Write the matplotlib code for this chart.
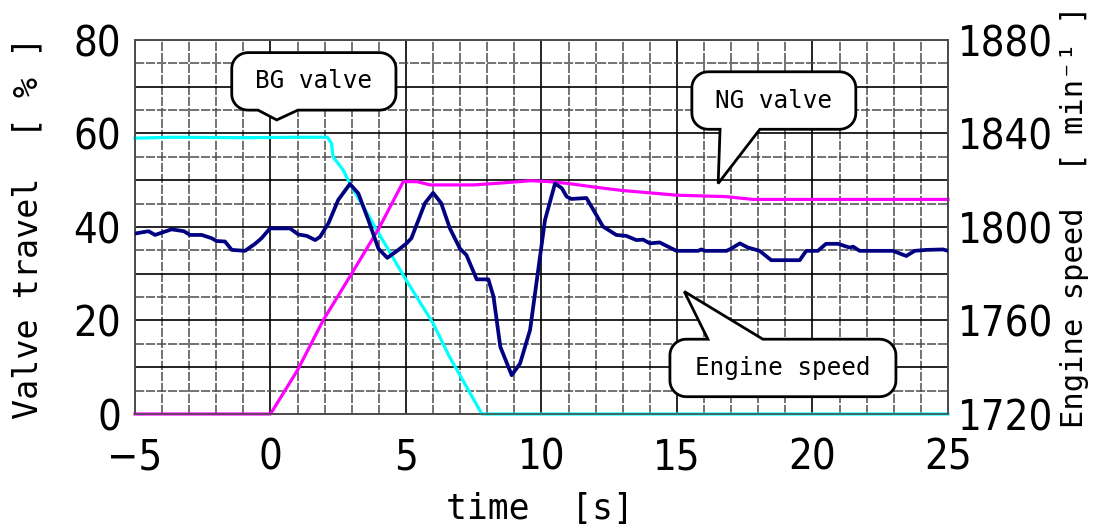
import numpy as np
import matplotlib
matplotlib.use("Agg")
import matplotlib.pyplot as plt
from matplotlib.path import Path
from matplotlib.patches import PathPatch
from matplotlib import font_manager as fm

# ---------------- data ----------------
bg_t = [-5, -3.6, -1, 1, 2.1, 2.25, 2.31, 2.68, 2.93, 3.85, 4.0, 5.0, 6.0, 6.6, 7.8, 25]
bg_v = [59.0, 59.2, 59.1, 59.2, 59.2, 57.9, 55.0, 52.2, 49.3, 40.1, 38.6, 28.7, 19.4, 12.3, 0, 0]

ng_t = [-5, 0, 1.0, 1.95, 2.93, 4.0, 4.9, 5.4, 5.9, 7.5, 8.5, 9.6, 10.3, 11, 12, 13, 14, 15, 16.8, 17.8, 25]
ng_v = [0, 0, 9.4, 20.1, 29.4, 39.7, 49.7, 49.7, 49.0, 49.0, 49.4, 49.9, 49.7, 49.3, 48.5, 47.8, 47.3, 46.8, 46.5, 45.9, 45.9]

es_t = [-5, -4.5, -4.26, -3.65, -3.2, -2.97, -2.54, -2.17, -1.99, -1.68, -1.43, -0.94, -0.57, -0.33,
        -0.02, 0.72, 1.03, 1.34, 1.65, 1.83, 2.14, 2.5, 2.93, 3.24, 3.61, 3.98, 4.31, 4.72, 5.02, 5.2,
        5.7, 6.0, 6.3, 6.62, 6.99, 7.23, 7.61, 8.04, 8.23, 8.48, 8.9, 9.21, 9.58, 9.83, 10.13, 10.5,
        10.75, 10.93, 11.1, 11.66, 12.27, 12.76, 13.13, 13.5, 13.75, 14.0, 14.36, 14.98, 15.78, 15.9,
        16.03, 16.83, 17.01, 17.32, 17.62, 18.05, 18.48, 19.53, 19.77, 20.2, 20.5, 20.94, 21.37, 21.5,
        21.74, 22.97, 23.46, 23.77, 24.2, 24.82, 25.0]
es_rpm = [1797.2, 1798.2, 1796.6, 1799.0, 1798.2, 1796.6, 1796.6, 1795.2, 1794.0, 1793.8, 1790.2, 1789.8,
          1792.8, 1795.2, 1799.4, 1799.4, 1796.8, 1796.2, 1794.4, 1795.8, 1801.6, 1811.6, 1818.4, 1814.4,
          1803.0, 1790.8, 1786.8, 1790.2, 1793.0, 1795.2, 1810.2, 1814.6, 1810.2, 1799.4, 1790.8, 1788.0,
          1777.6, 1777.6, 1770.2, 1748.8, 1736.6, 1741.6, 1756.0, 1777.4, 1803.0, 1818.6, 1816.6, 1813.0,
          1812.0, 1812.4, 1800.2, 1796.6, 1796.2, 1794.4, 1794.6, 1793.0, 1793.4, 1789.8, 1789.8, 1790.4,
          1789.8, 1789.8, 1790.8, 1793.0, 1791.2, 1789.8, 1785.8, 1785.8, 1789.8, 1789.8, 1792.8, 1792.8,
          1791.2, 1791.6, 1789.8, 1789.8, 1787.6, 1789.8, 1790.2, 1790.4, 1789.8]

x_ticks = [-5, 0, 5, 10, 15, 20, 25]
left_ticks = [0, 20, 40, 60, 80]
right_ticks = [1720, 1760, 1800, 1840, 1880]

bubble_texts = ["BG valve", "NG valve", "Engine speed"]


# ---------------- fonts ----------------
def pick_narrow_font():
    cands = []
    for f in fm.fontManager.ttflist:
        name = f.name.lower()
        fn = f.fname.lower()
        narrow = ('narrow' in name or 'condensed' in name or 'narrow' in fn or 'condensed' in fn
                  or f.stretch in ('condensed', 'semi-condensed', 'extra-condensed'))
        if not narrow:
            continue
        if 'italic' in fn or 'oblique' in fn or f.style != 'normal':
            continue
        w = f.weight if isinstance(f.weight, int) else 400
        if 'bold' in fn or w >= 600 or 'light' in fn or 'thin' in fn:
            continue
        rank = 0 if 'liberation' in fn else (1 if 'dejavu' in fn else 2)
        cands.append((rank, f.fname))
    if cands:
        cands.sort()
        return fm.FontProperties(fname=cands[0][1]), 1.0
    return fm.FontProperties(family=['Liberation Sans', 'DejaVu Sans']), 0.85


NUM_PROP, NUM_SCALE = pick_narrow_font()
MONO_FONT = ['DejaVu Sans Mono', 'DejaVu Sans']

# ---------------- figure ----------------
fig = plt.figure(figsize=(10.94, 5.29), dpi=100)
ax = fig.add_axes([0.1234, 0.2174, 0.8665 - 0.1234, 0.9244 - 0.2174])
ax2 = ax.twinx()

ax.set_xlim(-5, 25)
ax.set_ylim(0, 80)
ax2.set_ylim(1720, 1880)

ax.set_xticks(np.arange(-5, 26, 5))
ax.set_xticks(np.arange(-5, 26, 1), minor=True)
ax.set_yticks(np.arange(0, 81, 10))
ax.set_yticks(np.arange(5, 80, 10), minor=True)
ax.set_xticklabels([str(v).replace('-', '\u2212') for v in x_ticks])
ax.set_yticklabels([str(v) if v in left_ticks else '' for v in range(0, 81, 10)])
ax2.set_yticks(right_ticks)
ax2.set_yticklabels([str(v) for v in right_ticks])

ax.grid(True, which='major', color='black', linewidth=1.2, linestyle='-')
ax.grid(True, which='minor', color='0.3', linewidth=1.1, linestyle=(0, (6, 1.2)))
ax.set_axisbelow(True)

for a in (ax, ax2):
    a.tick_params(which='both', length=0)
    for s in a.spines.values():
        s.set_color('0.3')
        s.set_linewidth(1.2)

ax.tick_params(axis='y', pad=10)
ax.tick_params(axis='x', pad=16)
ax2.tick_params(axis='y', pad=7)
for lbl in ax.get_xticklabels() + ax.get_yticklabels() + ax2.get_yticklabels():
    lbl.set_fontproperties(NUM_PROP)
    lbl.set_fontsize(30 * NUM_SCALE)

# curves
ax.plot(bg_t, bg_v, color='#00FFFF', linewidth=2.3, zorder=3, clip_on=False)
ax.plot(ng_t, ng_v, color='#FF00FF', linewidth=2.3, zorder=4, clip_on=False)
ax2.plot(es_t, es_rpm, color='#000080', linewidth=2.7, zorder=3)

# axis labels
ax.set_xlabel("time  [s]", fontfamily=MONO_FONT, fontsize=25)
ax.xaxis.set_label_coords(0.498, -0.255)
ax.xaxis.label.set_va('center')
ax.set_ylabel("Valve travel  [ % ]", fontfamily=MONO_FONT, fontsize=24, va='center', ha='center')
ax.yaxis.set_label_coords(-0.1316, 0.497)
ax2.set_ylabel("Engine speed  [ min\u207b\u00b9 ]", fontfamily=MONO_FONT, fontsize=22,
               va='center', ha='center', rotation=90)
ax2.yaxis.set_label_coords(1.156, 0.527)


# callout bubbles (in left-axis data coordinates)
def bubble_path(x0, x1, y0, y1, rx, ry, ba, bb, tip, side):
    pts = []

    def arc(cx, cy, a0, a1):
        for a in np.linspace(np.radians(a0), np.radians(a1), 10):
            pts.append((cx + rx * np.cos(a), cy + ry * np.sin(a)))
    pts.append((x0 + rx, y0))
    if side == 'bottom':
        pts.extend([(ba, y0), tip, (bb, y0)])
    arc(x1 - rx, y0 + ry, -90, 0)
    arc(x1 - rx, y1 - ry, 0, 90)
    if side == 'top':
        pts.extend([(bb, y1), tip, (ba, y1)])
    arc(x0 + rx, y1 - ry, 90, 180)
    arc(x0 + rx, y0 + ry, 180, 270)
    pts.append(pts[0])
    codes = [Path.MOVETO] + [Path.LINETO] * (len(pts) - 2) + [Path.CLOSEPOLY]
    return Path(pts, codes)


rx, ry = 0.6, 3.4
bubbles = [
    (-1.43, 4.63, 65.0, 77.3, -0.46, 1.01, (0.23, 62.9), 'bottom'),
    (15.55, 21.6, 60.9, 73.2, 16.59, 18.06, (16.52, 49.3), 'bottom'),
    (14.74, 23.08, 3.7, 16.0, 16.14, 18.17, (15.27, 26.2), 'top'),
]
for (x0, x1, y0, y1, ba, bb, tip, side), txt in zip(bubbles, bubble_texts):
    p = PathPatch(bubble_path(x0, x1, y0, y1, rx, ry, ba, bb, tip, side),
                  facecolor='white', edgecolor='black', linewidth=2.0,
                  transform=ax.transData, zorder=10)
    ax2.add_patch(p)
    ax2.text((x0 + x1) / 2, (y0 + y1) / 2, txt, transform=ax.transData,
             ha='center', va='center', fontfamily=MONO_FONT, fontsize=17.5, zorder=11)

fig.savefig("out.png", dpi=100)
